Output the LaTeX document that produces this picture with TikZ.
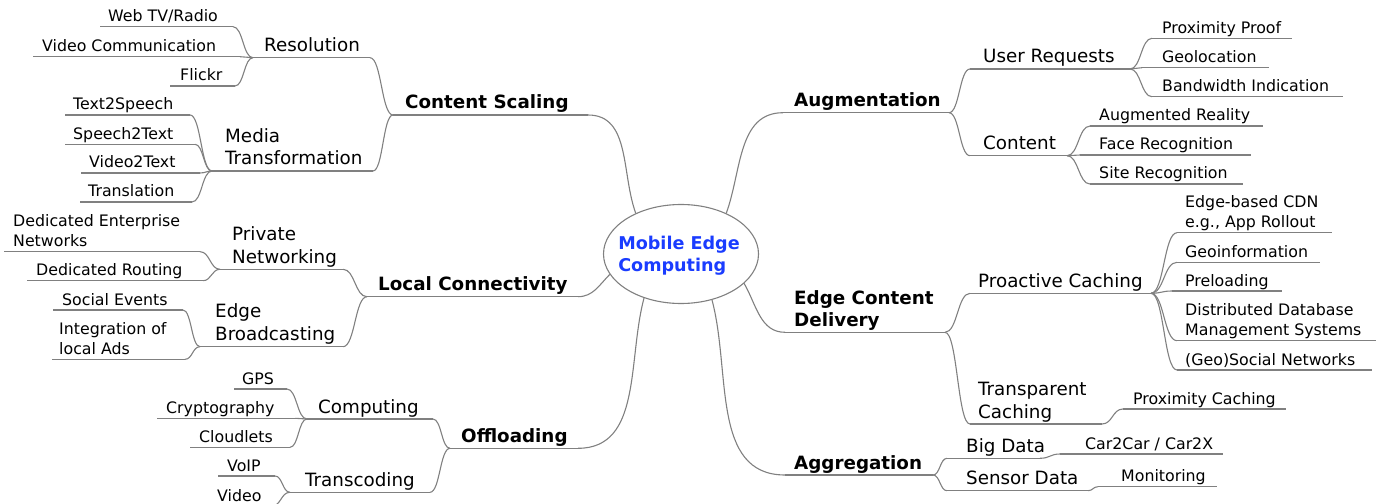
\documentclass[tikz,border=0pt]{standalone}
\usepackage{fontspec}
\setmainfont{DejaVu Sans}
\usetikzlibrary{calc,shapes.geometric}
\definecolor{linkgray}{HTML}{808080}
\definecolor{meblue}{HTML}{1A3CFF}
\newcommand\leaffont{\fontsize{15.8bp}{20bp}\selectfont}
\newcommand\midfont{\fontsize{18.3bp}{22.8bp}\selectfont}
\newcommand\topfont{\fontsize{18.3bp}{22.3bp}\selectfont\bfseries}
\newcommand\centerfont{\fontsize{17.6bp}{21.7bp}\selectfont\bfseries}
\newcommand\mlines[1]{\begin{tabular}[b]{@{}l@{}}#1\end{tabular}}
\tikzset{
  link/.style={draw=linkgray,line width=1.1bp},
  lvlleaf/.style={font=\leaffont,inner sep=0pt},
  lvltwo/.style={font=\midfont,inner sep=0pt,yshift=1bp},
  lvlone/.style={font=\topfont,inner sep=0pt,yshift=1bp},
}
% #1 name, #2 left x, #3 right x, #4 line y, #5 text x, #6 style, #7 text
\newcommand\mmtopic[7]{%
  \coordinate (#1L) at (#2,#4);
  \coordinate (#1R) at (#3,#4);
  \draw[link] (#1L) -- (#1R);
  \node[#6,anchor=base west] (#1) at (#5,#4-5) {#7};
}
\newcommand\mmconn[2]{%
  \draw[link] let \p1=(#1), \p2=(#2) in
    (\p1) .. controls ({(\x1+\x2)/2},\y1) and ({(\x1+\x2)/2},\y2) .. (\p2);
}
\begin{document}
\begin{tikzpicture}[x=1bp,y=-1bp]
\useasboundingbox (0,0) rectangle (1379,504);

% centre
\node[ellipse,draw=linkgray,line width=1.1bp,minimum width=155bp,minimum height=99bp,
      inner sep=0pt] (mec) at (681,254) {};
\node[inner sep=0pt,font=\centerfont,text=meblue,align=left] (mect) at (679,256)
      {Mobile Edge\\Computing};

% ---------- left side ----------
\mmtopic{CS}{393}{588}{115}{405}{lvlone}{Content Scaling}
\mmtopic{Res}{253}{370}{57.7}{264}{lvltwo}{Resolution}
\mmtopic{Web}{100}{233}{26.7}{108}{lvlleaf}{Web TV/Radio}
\mmtopic{VC}{33}{240}{56.7}{42}{lvlleaf}{Video Communication}
\mmtopic{Fli}{170}{235}{86}{180}{lvlleaf}{Flickr}
\mmtopic{MT}{212}{373}{171}{225}{lvltwo}{\mlines{Media\\Transformation}}
\mmtopic{TS}{65}{190}{115}{73}{lvlleaf}{Text2Speech}
\mmtopic{ST}{65}{195}{144.3}{73}{lvlleaf}{Speech2Text}
\mmtopic{VT}{81}{200}{173}{89}{lvlleaf}{Video2Text}
\mmtopic{Tra}{80}{192}{202}{88}{lvlleaf}{Translation}

\mmtopic{LC}{367}{578}{296.7}{378}{lvlone}{Local Connectivity}
\mmtopic{PN}{220}{343}{269.3}{232}{lvltwo}{\mlines{Private\\Networking}}
\mmtopic{DEN}{4}{200}{251.7}{13}{lvlleaf}{\mlines{Dedicated Enterprise\\Networks}}
\mmtopic{DR}{27}{203}{280.7}{36}{lvlleaf}{Dedicated Routing}
\mmtopic{EB}{200}{343}{346.7}{215}{lvltwo}{\mlines{Edge\\Broadcasting}}
\mmtopic{SE}{53}{183}{310}{62}{lvlleaf}{Social Events}
\mmtopic{ILA}{52}{185}{359.3}{59}{lvlleaf}{\mlines{Integration of\\local Ads}}

\mmtopic{Off}{450}{578}{448.3}{461}{lvlone}{Offloading}
\mmtopic{Comp}{307}{433}{419}{318}{lvltwo}{Computing}
\mmtopic{GPS}{234}{287}{389}{242}{lvlleaf}{GPS}
\mmtopic{Cry}{157}{295}{418.3}{166}{lvlleaf}{Cryptography}
\mmtopic{Clo}{190}{290}{447.3}{199}{lvlleaf}{Cloudlets}
\mmtopic{Trc}{290}{430}{492.3}{305}{lvltwo}{Transcoding}
\mmtopic{VoIP}{218}{275}{476}{227}{lvlleaf}{VoIP}
\mmtopic{Vid}{208}{272}{506}{217}{lvlleaf}{Video}

% ---------- right side ----------
\mmtopic{Aug}{783}{949}{112.7}{794}{lvlone}{Augmentation}
\mmtopic{UR}{970}{1130}{69}{983}{lvltwo}{User Requests}
\mmtopic{PP}{1152}{1292}{38.3}{1162}{lvlleaf}{Proximity Proof}
\mmtopic{Geo}{1142}{1269}{67.7}{1162}{lvlleaf}{Geolocation}
\mmtopic{BI}{1152}{1343}{96.7}{1162}{lvlleaf}{Bandwidth Indication}
\mmtopic{Con}{970}{1067}{155.7}{983}{lvltwo}{Content}
\mmtopic{AR}{1090}{1263}{126}{1099}{lvlleaf}{Augmented Reality}
\mmtopic{FR}{1080}{1251}{155}{1099}{lvlleaf}{Face Recognition}
\mmtopic{SR}{1090}{1243}{184}{1099}{lvlleaf}{Site Recognition}

\mmtopic{ECD}{785}{945}{332.3}{794}{lvlone}{\mlines{Edge Content\\Delivery}}
\mmtopic{PC}{970}{1151}{293.3}{978}{lvltwo}{Proactive Caching}
\mmtopic{CDN}{1177}{1332}{232.7}{1185}{lvlleaf}{\mlines{Edge-based CDN\\e.g., App Rollout}}
\mmtopic{GI}{1177}{1320}{262.3}{1185}{lvlleaf}{Geoinformation}
\mmtopic{Pre}{1172}{1282}{291}{1185}{lvlleaf}{Preloading}
\mmtopic{DDB}{1177}{1376}{340.7}{1185}{lvlleaf}{\mlines{Distributed Database\\Management Systems}}
\mmtopic{GSN}{1177}{1372}{370}{1185}{lvlleaf}{(Geo)Social Networks}
\mmtopic{TC}{970}{1102}{424}{978}{lvltwo}{\mlines{Transparent\\Caching}}
\mmtopic{PCa}{1123}{1286}{409}{1133}{lvlleaf}{Proximity Caching}

\mmtopic{Agg}{785}{933}{475}{794}{lvlone}{Aggregation}
\mmtopic{BD}{947}{1040}{458.3}{966}{lvltwo}{Big Data}
\mmtopic{CC}{1060}{1223}{454}{1085}{lvlleaf}{Car2Car / Car2X}
\mmtopic{SD}{947}{1088}{490.7}{966}{lvltwo}{Sensor Data}
\mmtopic{Mon}{1098}{1217}{486.7}{1121}{lvlleaf}{Monitoring}

% ---------- centre connectors ----------
\draw[link] (CSR) to[out=0,in=110] (mec.138);
\draw[link] (LCR) to[out=0,in=225] (mec.196);
\draw[link] (OffR) to[out=0,in=255] (mec.230);
\draw[link] (mec.42) to[out=70,in=180] (AugL);
\draw[link] (mec.335) to[out=-60,in=180] (ECDL);
\draw[link] (mec.304) to[out=-75,in=180] (AggL);

% ---------- branch connectors ----------
\mmconn{WebR}{ResL}
\mmconn{VCR}{ResL}
\mmconn{FliR}{ResL}
\mmconn{ResR}{CSL}
\mmconn{MTR}{CSL}
\mmconn{TSR}{MTL}
\mmconn{STR}{MTL}
\mmconn{VTR}{MTL}
\mmconn{TraR}{MTL}
\mmconn{PNR}{LCL}
\mmconn{EBR}{LCL}
\mmconn{DENR}{PNL}
\mmconn{DRR}{PNL}
\mmconn{SER}{EBL}
\mmconn{ILAR}{EBL}
\mmconn{CompR}{OffL}
\mmconn{TrcR}{OffL}
\mmconn{GPSR}{CompL}
\mmconn{CryR}{CompL}
\mmconn{CloR}{CompL}
\mmconn{VoIPR}{TrcL}
\mmconn{VidR}{TrcL}

\mmconn{AugR}{URL}
\mmconn{AugR}{ConL}
\mmconn{URR}{PPL}
\mmconn{URR}{GeoL}
\mmconn{URR}{BIL}
\mmconn{ConR}{ARL}
\mmconn{ConR}{FRL}
\mmconn{ConR}{SRL}
\mmconn{ECDR}{PCL}
\mmconn{ECDR}{TCL}
\mmconn{PCR}{CDNL}
\mmconn{PCR}{GIL}
\mmconn{PCR}{PreL}
\mmconn{PCR}{DDBL}
\mmconn{PCR}{GSNL}
\mmconn{TCR}{PCaL}
\mmconn{AggR}{BDL}
\mmconn{AggR}{SDL}
\mmconn{BDR}{CCL}
\mmconn{SDR}{MonL}
\end{tikzpicture}
\end{document}
